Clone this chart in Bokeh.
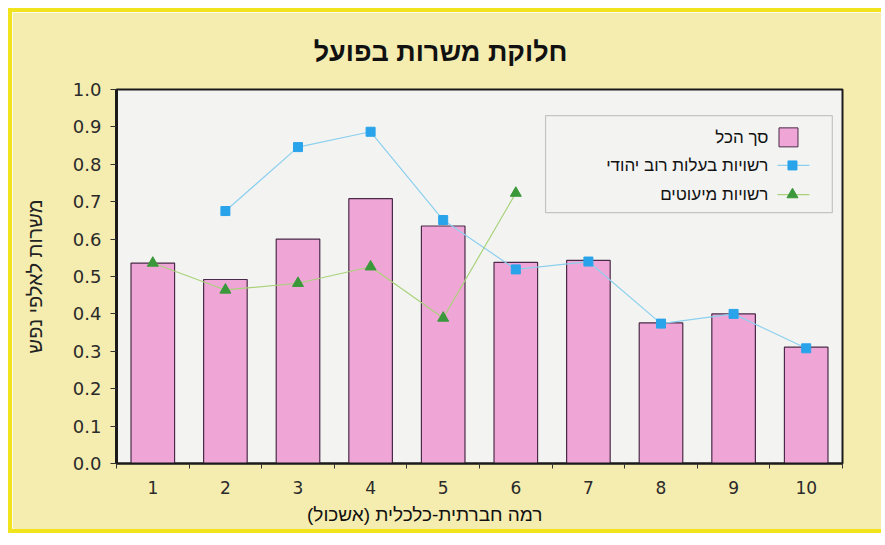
from bokeh.plotting import figure
from bokeh.models import Range1d, FixedTicker, NumeralTickFormatter, Label, BoxAnnotation, ColumnDataSource, Title
from bokeh.embed import file_html
from bokeh.resources import INLINE

nan = float("nan")

# ---- data ----
levels = [1, 2, 3, 4, 5, 6, 7, 8, 9, 10]
total = [0.536, 0.492, 0.600, 0.708, 0.635, 0.538, 0.543, 0.376, 0.400, 0.311]
jewish = [nan, 0.675, 0.846, 0.887, 0.651, 0.519, 0.540, 0.374, 0.400, 0.308]
minority_levels = [1, 2, 3, 4, 5, 6]
minority = [0.536, 0.464, 0.482, 0.526, 0.389, 0.723]
y_ticks = [0.0, 0.1, 0.2, 0.3, 0.4, 0.5, 0.6, 0.7, 0.8, 0.9, 1.0]

title_text = "חלוקת משרות בפועל"
x_label = "רמה חברתית-כלכלית (אשכול)"
y_label = "משרות לאלפי נפש"
legend_labels = ["סך הכל", "רשויות בעלות רוב יהודי", "רשויות מיעוטים"]

FONT = "Liberation Sans"
NUM_FONT = "DejaVu Sans"
PINK = "#efa6d6"
BAR_LINE = "#4a2a48"
BLUE = "#29a3ea"
BLUE_LINE = "#8ccfee"
GREEN = "#3a983a"
GREEN_LINE = "#a9d27a"
PLOT_BG = "#f3f4f2"
PAGE_BG = "#f5ecb0"
EDGE = "#f2e41c"

p = figure(width=873, height=525, output_backend="svg", toolbar_location=None,
           x_range=Range1d(0.5, 10.5), y_range=Range1d(0, 1),
           min_border_left=104, min_border_right=43, min_border_top=77, min_border_bottom=74)
p.margin = (8, 0, 4, 8)
p.styles = {"border-top": f"4px solid {EDGE}", "border-left": f"4px solid {EDGE}",
            "border-bottom": f"4px solid {EDGE}"}
p.background_fill_color = PLOT_BG
p.border_fill_color = PAGE_BG
p.outline_line_color = "#1a1a1a"
p.outline_line_width = 2
p.grid.visible = False

src = ColumnDataSource(dict(x=levels, total=total, jewish=jewish))
p.vbar(x="x", top="total", width=0.6, source=src, fill_color=PINK, line_color=BAR_LINE, line_width=1.2)
p.line(x="x", y="jewish", source=src, line_color=BLUE_LINE, line_width=1.2)
p.scatter(x="x", y="jewish", source=src, marker="square", size=9, fill_color=BLUE, line_color=BLUE)
msrc = ColumnDataSource(dict(x=minority_levels, y=minority))
p.line(x="x", y="y", source=msrc, line_color=GREEN_LINE, line_width=1.2)
p.scatter(x="x", y="y", source=msrc, marker="triangle", size=11, fill_color=GREEN, line_color=GREEN)

# axes
xa = p.xaxis[0]
xa.ticker = FixedTicker(ticks=levels, minor_ticks=[v + 0.5 for v in range(0, 11)])
xa.major_tick_line_color = None
xa.major_tick_out = 0
xa.major_tick_in = 0
xa.minor_tick_line_color = "#333333"
xa.minor_tick_out = 5
xa.minor_tick_in = 0
xa.axis_line_color = "#1a1a1a"
xa.axis_line_width = 2
xa.major_label_standoff = 12
xa.major_label_text_font = NUM_FONT
xa.major_label_text_font_size = "17px"
xa.major_label_text_color = "#2a2a2a"

ya = p.yaxis[0]
ya.ticker = FixedTicker(ticks=y_ticks)
ya.formatter = NumeralTickFormatter(format="0.0")
ya.minor_tick_line_color = None
ya.major_tick_out = 6
ya.major_tick_in = 0
ya.major_tick_line_color = "#333333"
ya.axis_line_color = "#1a1a1a"
ya.axis_line_width = 3
ya.major_label_standoff = 9
ya.major_label_text_font = NUM_FONT
ya.major_label_text_font_size = "18px"
ya.major_label_text_color = "#2a2a2a"
ya.axis_label = y_label
ya.axis_label_standoff = 24
ya.axis_label_text_font = FONT
ya.axis_label_text_font_size = "20px"
ya.axis_label_text_font_style = "normal"
ya.axis_label_text_color = "#222222"

# title and x label
p.title.text = title_text
p.title.align = "right"
p.title.offset = 275
p.title.standoff = 45
p.title.text_font = FONT
p.title.text_font_size = "27px"
p.title.text_font_style = "bold"
p.title.text_color = "#111111"

p.add_layout(Title(text=x_label, align="right", offset=300, standoff=11, text_font=FONT,
                   text_font_size="19px", text_font_style="normal", text_color="#111111"), "below")

# legend (glyph on the right, Hebrew text on the left)
p.add_layout(BoxAnnotation(left=6.41, right=10.36, top=0.930, bottom=0.671, fill_alpha=0,
                           line_color="#555555", line_width=1.2))
rows_y = [0.872, 0.797, 0.719]
p.scatter(x=[9.756], y=[rows_y[0]], marker="square", size=19, fill_color=PINK, line_color=BAR_LINE)
p.line(x=[9.605, 10.045], y=[rows_y[1], rows_y[1]], line_color=BLUE_LINE, line_width=1.2)
p.scatter(x=[9.811], y=[rows_y[1]], marker="square", size=9, fill_color=BLUE, line_color=BLUE)
p.line(x=[9.605, 10.045], y=[rows_y[2], rows_y[2]], line_color=GREEN_LINE, line_width=1.2)
p.scatter(x=[9.811], y=[rows_y[2]], marker="triangle", size=11, fill_color=GREEN, line_color=GREEN)
for lbl, yy in zip(legend_labels, rows_y):
    p.add_layout(Label(x=9.48, y=yy, text=lbl, text_align="right", text_baseline="middle",
                       text_font=FONT, text_font_size="17px", text_color="#111111"))

open("out.html", "w").write(file_html(p, INLINE))
